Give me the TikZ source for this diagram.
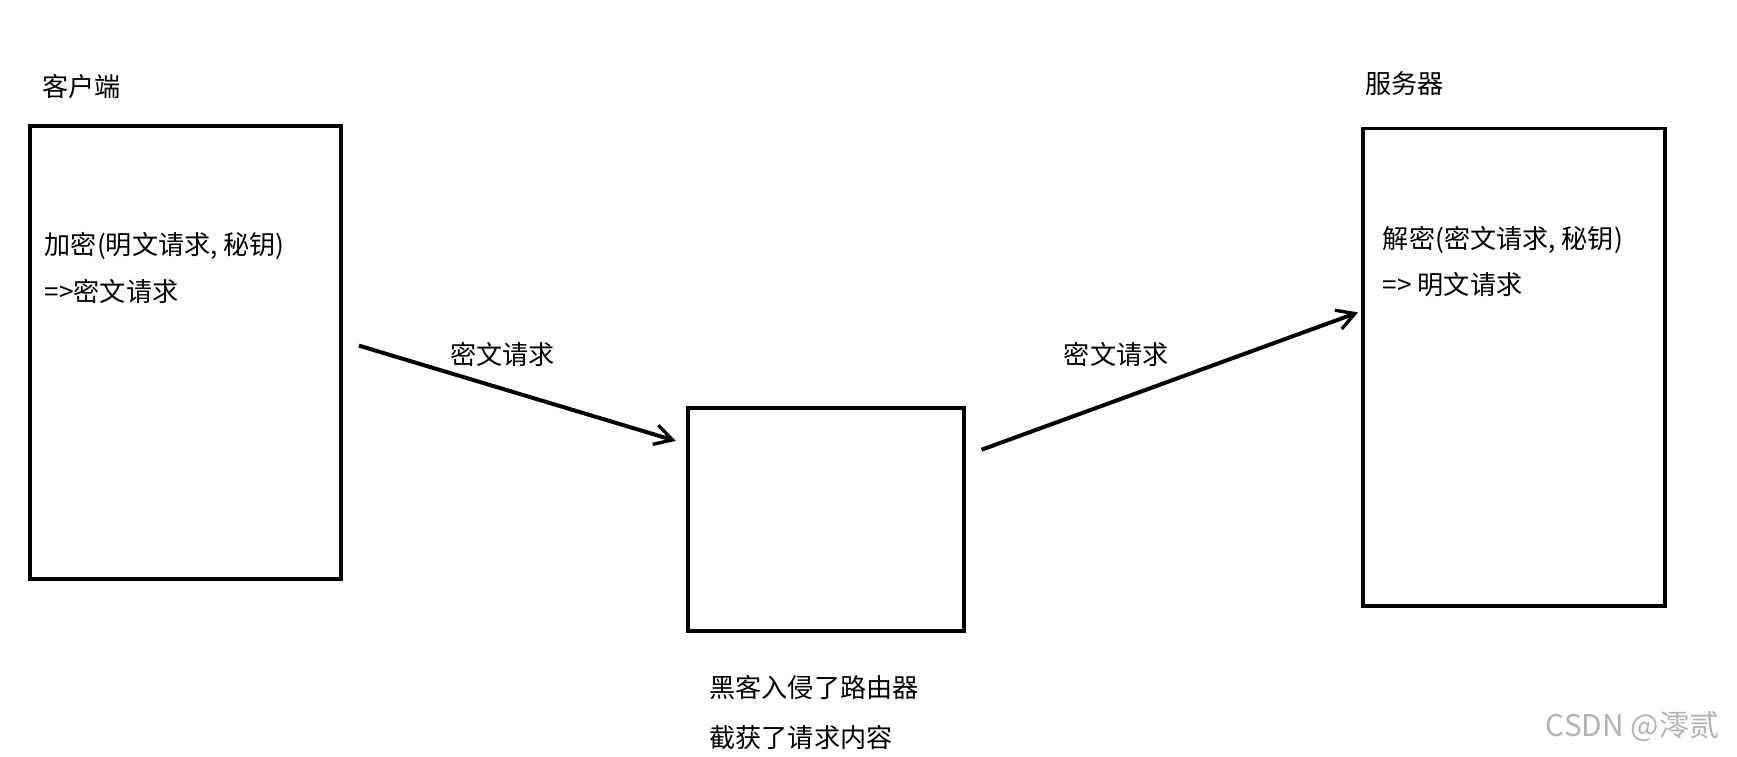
\documentclass[tikz,border=0pt]{standalone}
\usepackage{fontspec}
\setmainfont{Noto Sans CJK SC}
\usetikzlibrary{arrows.meta}
\begin{document}
\begin{tikzpicture}[x=0.5pt,y=-0.5pt,
  box/.style={draw,line width=1.8pt},
  lbl/.style={anchor=west,inner sep=0pt,font=\fontsize{11.8}{13}\selectfont},
  arr/.style={line width=1.8pt,-{Straight Barb[length=8pt,width=9pt,line width=1.5pt]}}]
\useasboundingbox (0,0) rectangle (1568,683);
\draw[box] (27,114) rectangle (308,523);
\draw[box] (621,368) rectangle (870,570);
\draw[box] (1230,116) rectangle (1503,547);
\node[lbl] (c) at (38,78) {客户端};
\node[lbl] (s) at (1232,75) {服务器};
\node[lbl] (c1) at (40,222) {加密(明文请求, 秘钥)};
\node[lbl] (c2) at (40,263) {=>密文请求};
\node[lbl] (s1) at (1248,217) {解密(密文请求, 秘钥)};
\node[lbl] (s2) at (1248,257) {=> 明文请求};
\node[lbl] (h1) at (640,621) {黑客入侵了路由器};
\node[lbl] (h2) at (640,666) {截获了请求内容};
\coordinate (a1s) at (324,312);
\coordinate (a1e) at (610,398);
\coordinate (a2s) at (886,406);
\coordinate (a2e) at (1226,282);
\draw[arr] (a1s) -- (a1e);
\draw[arr] (a2s) -- (a2e);
\node[lbl] (l1) at (406,320) {密文请求};
\node[lbl] (l2) at (960,320) {密文请求};
\node[lbl,text=gray!60,font=\fontsize{13.5}{15}\selectfont] (w) at (1395,656) {CSDN @澪贰};
\end{tikzpicture}
\end{document}
